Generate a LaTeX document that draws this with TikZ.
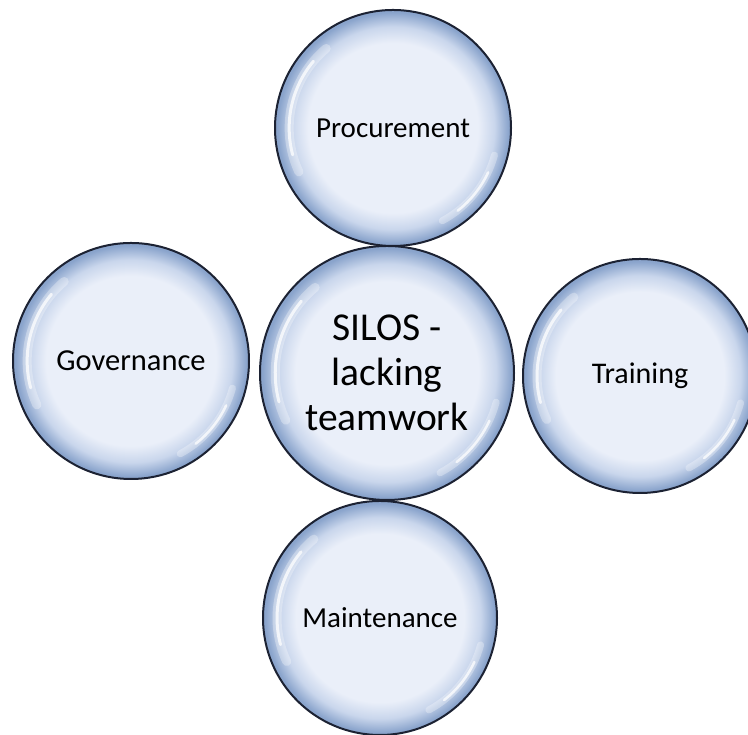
\documentclass[tikz,border=0pt]{standalone}
\usepackage{fontspec}
\setmainfont{Carlito}
\usetikzlibrary{positioning}
\definecolor{bubin}{HTML}{EAEFF9}
\definecolor{bubmid}{HTML}{C9D6EC}
\definecolor{bubout}{HTML}{8AA4CC}
\definecolor{bubline}{HTML}{1C2233}
\pgfdeclareradialshading{bubble}{\pgfpoint{0bp}{0bp}}{color(0bp)=(bubin); color(18bp)=(bubin); color(21.5bp)=(bubmid); color(24.5bp)=(bubout); color(50bp)=(bubout)}

\begin{document}
\begin{tikzpicture}[x=1pt, y=1pt,
  bubble/.style={circle, draw=bubline, line width=2pt, shading=bubble, inner sep=0pt, align=center, text=black},
  small/.style={font=\fontsize{29}{33}\selectfont},
  big/.style={font=\fontsize{39.5}{45}\selectfont},
  gloss/.style={white, line cap=round, opacity=0.75, line width=3pt},
  glow/.style={white, line cap=round, opacity=0.3, line width=9pt}]
\useasboundingbox (0,0) rectangle (748,735);

% the five bubbles
\node[bubble, big, minimum size=254pt] (silos) at (387,362) {SILOS -\\lacking\\teamwork};
\node[bubble, small, minimum size=236pt] (procure) at (393,607) {Procurement};
\node[bubble, small, font=\fontsize{30.5}{34}\selectfont, minimum size=236pt] (govern) at (131,374) {Governance};
\node[bubble, small, font=\fontsize{30}{34}\selectfont, minimum size=234pt] (train) at (640,359) {Training};
\node[bubble, small, minimum size=234pt] (maint) at (380,117) {Maintenance};

% glossy highlights
\foreach \n/\r in {silos/127, procure/118, govern/118, train/117, maint/117} {
  \draw[glow] ([shift={(130:0.88*\r pt)}]\n.center) arc[start angle=130, end angle=205, radius=0.88*\r pt];
  \draw[gloss] ([shift={(140:0.88*\r pt)}]\n.center) arc[start angle=140, end angle=195, radius=0.88*\r pt];
  \draw[glow, line width=7pt] ([shift={(-15:0.89*\r pt)}]\n.center) arc[start angle=-15, end angle=-62, radius=0.89*\r pt];
  \draw[gloss, line width=2.5pt] ([shift={(-25:0.89*\r pt)}]\n.center) arc[start angle=-25, end angle=-52, radius=0.89*\r pt];
}
\end{tikzpicture}
\end{document}
